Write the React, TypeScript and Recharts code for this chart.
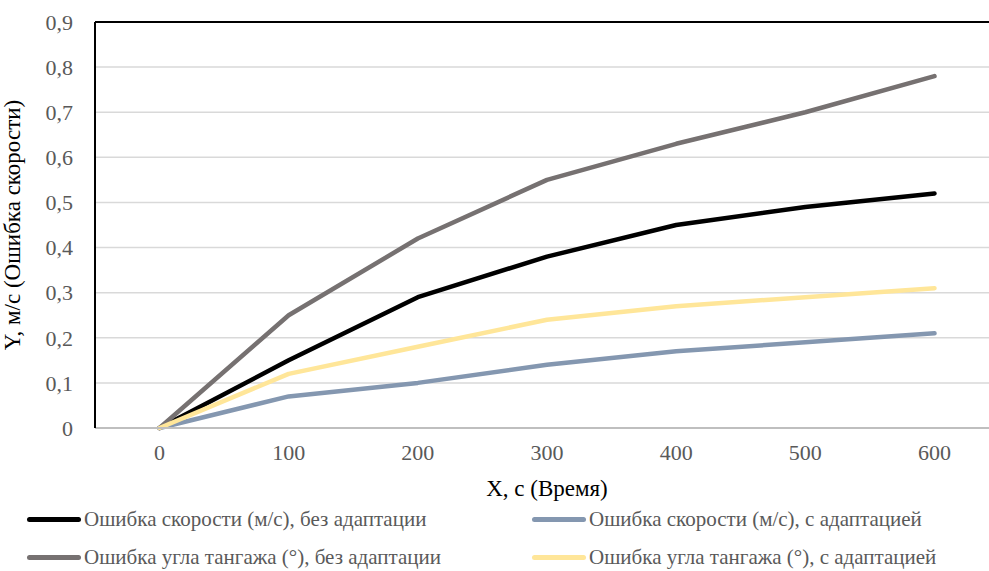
import React from 'react';
import {
    LineChart, Line, XAxis, YAxis, CartesianGrid, ReferenceLine,
} from 'recharts';

const TIMES = ['0', '100', '200', '300', '400', '500', '600'];
const SPEED_NO_ADAPT = [0, 0.15, 0.29, 0.38, 0.45, 0.49, 0.52];
const SPEED_ADAPT = [0, 0.07, 0.10, 0.14, 0.17, 0.19, 0.21];
const PITCH_NO_ADAPT = [0, 0.25, 0.42, 0.55, 0.63, 0.70, 0.78];
const PITCH_ADAPT = [0, 0.12, 0.18, 0.24, 0.27, 0.29, 0.31];
const Y_TICKS = [0, 0.1, 0.2, 0.3, 0.4, 0.5, 0.6, 0.7, 0.8, 0.9];

const SERIES = [
    { key: 'speedNoAdapt', name: 'Ошибка скорости (м/с), без адаптации', color: '#000000' },
    { key: 'speedAdapt', name: 'Ошибка скорости (м/с), с адаптацией', color: '#8497B0' },
    { key: 'pitchNoAdapt', name: 'Ошибка угла тангажа (°), без адаптации', color: '#767171' },
    { key: 'pitchAdapt', name: 'Ошибка угла тангажа (°), с адаптацией', color: '#FFE699' },
];

const data = TIMES.map((t, i) => ({
    t,
    speedNoAdapt: SPEED_NO_ADAPT[i],
    speedAdapt: SPEED_ADAPT[i],
    pitchNoAdapt: PITCH_NO_ADAPT[i],
    pitchAdapt: PITCH_ADAPT[i],
}));

const FONT = "'Times New Roman', 'Liberation Serif', 'Tinos', serif";

const fmt = (v: number) => (v === 0 ? '0' : v.toFixed(1).replace('.', ','));

export default function App() {
    return (
        <div style={{ position: 'fixed', left: 0, top: 0, width: 989, height: 571, overflow: 'hidden', background: '#fff', fontFamily: FONT }}>
            <LineChart
                width={1010}
                height={571}
                data={data}
                margin={{ top: 22, right: 11, left: 0, bottom: 0 }}
                style={{ fontFamily: FONT }}
            >
                <CartesianGrid vertical={false} stroke="#d9d9d9" strokeWidth={1.5} />
                <XAxis
                    dataKey="t"
                    height={143}
                    padding={{ left: 64.5, right: 64.5 }}
                    tickLine={false}
                    tickSize={0}
                    tickMargin={16}
                    axisLine={{ stroke: '#bfbfbf', strokeWidth: 2 }}
                    tick={{ fontSize: 22, fill: '#595959', fontFamily: FONT }}
                    label={{ value: 'X, с (Время)', position: 'insideTop', offset: 52, fontSize: 23, fill: '#000', fontFamily: FONT }}
                />
                <YAxis
                    width={95}
                    domain={[0, 0.9]}
                    ticks={Y_TICKS}
                    tickFormatter={fmt}
                    tickLine={false}
                    tickSize={0}
                    tickMargin={22}
                    axisLine={{ stroke: '#000', strokeWidth: 2 }}
                    tick={{ fontSize: 22, fill: '#595959', fontFamily: FONT }}
                    label={{ value: 'Y, м/с (Ошибка скорости)', angle: -90, position: 'insideLeft', offset: 12, style: { textAnchor: 'middle' }, fontSize: 23, fill: '#000', fontFamily: FONT }}
                />
                <ReferenceLine y={0.9} stroke="#000" strokeWidth={2} />
                {SERIES.map(s => (
                    <Line
                        key={s.key}
                        type="linear"
                        dataKey={s.key}
                        name={s.name}
                        stroke={s.color}
                        strokeWidth={4.5}
                        strokeLinecap="round"
                        strokeLinejoin="round"
                        dot={false}
                        isAnimationActive={false}
                    />
                ))}
            </LineChart>

            {SERIES.map((s, i) => (
                <div
                    key={s.key}
                    style={{
                        position: 'absolute',
                        left: i % 2 === 0 ? 27 : 532,
                        top: i < 2 ? 506 : 544,
                        display: 'flex',
                        alignItems: 'center',
                        fontFamily: FONT,
                        fontSize: 21,
                        color: '#595959',
                        whiteSpace: 'nowrap',
                        lineHeight: '26px',
                    }}
                >
                    <span style={{ display: 'inline-block', width: 54, height: 5, borderRadius: 3, background: s.color, marginRight: 3 }} />
                    {s.name}
                </div>
            ))}
        </div>
    );
}
